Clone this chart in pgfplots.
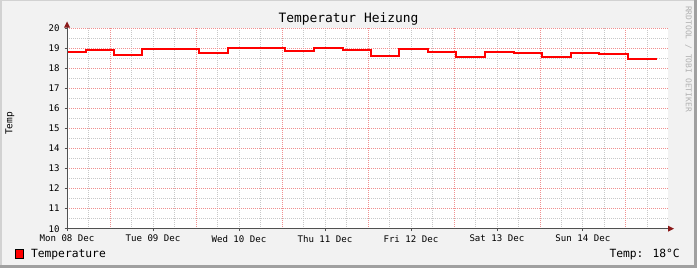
\documentclass[border=0pt]{standalone}
\usepackage{fontspec}
\setmainfont{DejaVu Sans Mono}
\usepackage{pgfplots}
\pgfplotsset{compat=1.18}
\usetikzlibrary{arrows.meta}
\definecolor{canvas}{HTML}{F2F2F2}
\definecolor{mgrid}{HTML}{F09090}
\definecolor{sgrid}{HTML}{C8C8C8}
\definecolor{axiscol}{HTML}{505050}
\definecolor{arrowcol}{HTML}{8B1A1A}
\definecolor{lightborder}{HTML}{D2D2D2}
\definecolor{darkborder}{HTML}{A0A0A0}
\begin{document}
\begin{tikzpicture}[x=1bp,y=1bp]
\useasboundingbox (0,0) rectangle (697,268);
\fill[canvas] (0,0) rectangle (697,268);
\fill[lightborder] (0,0) rectangle (2,268);
\fill[lightborder] (0,267) rectangle (697,268);
\fill[darkborder] (0,0) rectangle (697,3);
\fill[darkborder] (694,0) rectangle (697,268);
\begin{axis}[
  at={(67bp,39.3bp)}, anchor=south west,
  scale only axis, width=601bp, height=200.4bp,
  xmin=0, xmax=6.99, ymin=10, ymax=20,
  axis background/.style={fill=white},
  axis line style={draw=none},
  xtick={0,1,2,3,4,5,6},
  xticklabels={Mon 08 Dec,Tue 09 Dec,Wed 10 Dec,Thu 11 Dec,Fri 12 Dec,Sat 13 Dec,Sun 14 Dec},
  minor xtick={0.25,0.5,0.75,1,1.25,1.5,1.75,2,2.25,2.5,2.75,3,3.25,3.5,3.75,4,4.25,4.5,4.75,5,5.25,5.5,5.75,6,6.25,6.5,6.75},
  extra x ticks={0.5,1.5,2.5,3.5,4.5,5.5,6.5},
  extra x tick labels={},
  extra x tick style={xmajorgrids=true, major tick length=0pt},
  ytick={10,11,12,13,14,15,16,17,18,19,20},
  minor ytick={10.5,11.5,12.5,13.5,14.5,15.5,16.5,17.5,18.5,19.5},
  xmajorgrids=false, xminorgrids=true, ymajorgrids=true, yminorgrids=true,
  major grid style={mgrid, line width=0.8bp, dash pattern=on 1bp off 1bp},
  minor grid style={sgrid, line width=0.8bp, dash pattern=on 1bp off 1bp},
  tick align=outside, major tick length=2.5bp, minor tick length=0pt,
  tick style={axiscol, line width=0.8bp},
  xtick pos=bottom, ytick pos=left,
  /pgf/number format/assume math mode=true,
  xticklabel style={font=\fontsize{9.1bp}{10bp}\selectfont, yshift=-0.5bp},
  yticklabel style={font=\fontsize{9.1bp}{10bp}\selectfont, xshift=-1.5bp},
  legend style={draw=none, fill=none, at={(-0.0865,-0.1245)}, anchor=west,
    inner sep=0pt, nodes={inner sep=0pt}, column sep=7bp,
    font=\fontsize{11.3bp}{12bp}\selectfont},
  legend image code/.code={\draw[fill=red,draw=black,line width=0.8bp] (0bp,-4.3bp) rectangle (8bp,4.3bp);},
]
\addplot[const plot mark left, color={rgb,255:red,255;green,0;blue,0}, line width=2bp] coordinates {
(0,18.8) (0.217,18.9) (0.55,18.665) (0.876,18.95) (1.535,18.77) (1.876,19.03)
(2.539,18.865) (2.876,19.03) (3.205,18.9) (3.539,18.6) (3.864,18.95) (4.201,18.8)
(4.527,18.55) (4.864,18.8) (5.198,18.75) (5.527,18.55) (5.864,18.75) (6.19,18.7)
(6.527,18.45) (6.857,18.45)
};
\addlegendentry{Temperature}
\end{axis}
\draw[axiscol, line width=1bp] (67,39.3) -- (669,39.3);
\draw[axiscol, line width=1bp] (67,39.3) -- (67,241);
\fill[arrowcol] (674,39.3) -- (668,42.3) -- (668,36.3) -- cycle;
\fill[arrowcol] (67,246.5) -- (64,240.5) -- (70,240.5) -- cycle;
\node[font=\fontsize{12.9bp}{14bp}\selectfont] at (348.5,249) {Temperatur Heizung};
\node[rotate=90, font=\fontsize{9.5bp}{10bp}\selectfont] at (10,144.5) {Temp};
\node[rotate=-90, text=black!30, font=\fontsize{8bp}{9bp}\selectfont] at (688.5,209) {RRDTOOL / TOBI OETIKER};
\node[anchor=east, inner sep=0pt, font=\fontsize{11.3bp}{12bp}\selectfont] at (680,14) {Temp: 18°C};
\end{tikzpicture}
\end{document}
